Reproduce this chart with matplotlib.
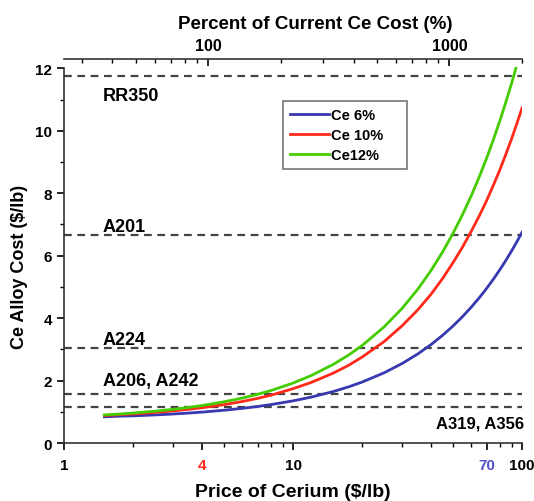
import matplotlib
matplotlib.use("Agg")
from matplotlib import pyplot as plt

# Data
price = [1.5, 1.75, 2, 2.5, 3, 3.5, 4, 5, 6, 7, 8, 10, 12, 15, 17.5, 20, 25, 30, 35,
         40, 45, 50, 55, 60, 65, 70, 75, 80, 85, 90, 95, 100]
ce6 = [0.84, 0.86, 0.87, 0.90, 0.93, 0.96, 0.99, 1.05, 1.11, 1.17, 1.23, 1.35, 1.47,
       1.65, 1.80, 1.95, 2.25, 2.55, 2.85, 3.15, 3.45, 3.75, 4.05, 4.35, 4.65, 4.95,
       5.25, 5.55, 5.85, 6.15, 6.45, 6.75]
ce10 = [0.88, 0.91, 0.93, 0.98, 1.03, 1.08, 1.13, 1.23, 1.33, 1.43, 1.53, 1.74, 1.94,
        2.24, 2.49, 2.75, 3.25, 3.76, 4.26, 4.76, 5.27, 5.78, 6.28, 6.78, 7.27, 7.76,
        8.26, 8.75, 9.25, 9.74, 10.24, 10.73]
price12 = [1.5, 1.75, 2, 2.5, 3, 3.5, 4, 5, 6, 7, 8, 10, 12, 15, 17.5, 20, 25, 30, 35,
           40, 45, 50, 55, 60, 65, 70, 75, 80, 85, 90, 94]
ce12 = [0.90, 0.93, 0.96, 1.02, 1.08, 1.14, 1.20, 1.32, 1.44, 1.56, 1.68, 1.92, 2.16,
        2.52, 2.82, 3.12, 3.72, 4.32, 4.92, 5.52, 6.12, 6.72, 7.32, 7.92, 8.52, 9.12,
        9.72, 10.32, 10.92, 11.52, 12.0]

alloys = ["RR350", "A201", "A224", "A206, A242", "A319, A356"]
alloy_cost = [11.75, 6.67, 3.05, 1.58, 1.14]

xtick_vals = [1, 4, 10, 70, 100]
xtick_labels = ["1", "4", "10", "70", "100"]
xtick_colors = ["black", "#ff2a1a", "black", "#5050c8", "black"]
top_ticks = [100, 1000]

plt.rcParams["font.family"] = ["Liberation Sans", "DejaVu Sans"]
plt.rcParams["font.weight"] = "bold"

fig = plt.figure(figsize=(5.34, 5.02), dpi=100)
ax = fig.add_axes([0.1199, 0.1155, 0.8577, 0.765])

for y in alloy_cost:
    ax.axhline(y, color="#444444", lw=1.6, ls=(0, (3.5, 2.5)), zorder=1)

ax.plot(price, ce6, color="#3838b0", lw=2.0, label="Ce 6%", zorder=3)
ax.plot(price, ce10, color="#ff2a1a", lw=2.0, label="Ce 10%", zorder=3)
ax.plot(price12, ce12, color="#44cc00", lw=2.0, label="Ce12%", zorder=3)

ax.set_xscale("log")
ax.set_xlim(1, 100)
ax.set_ylim(0, 12.3)
ax.set_xticks(xtick_vals)
ax.set_xticklabels(xtick_labels)
for lab, c in zip(ax.get_xticklabels(), xtick_colors):
    lab.set_color(c)
ax.set_yticks(range(0, 13, 2))
ax.set_yticks(range(1, 13, 2), minor=True)
ax.tick_params(axis="both", which="major", labelsize=11, length=5, width=1.2)
ax.tick_params(axis="both", which="minor", length=3, width=1.0)
ax.tick_params(axis="x", pad=6)

for s in ["top", "right"]:
    ax.spines[s].set_visible(False)
ax.spines["left"].set_bounds(0, 12)
for s in ["left", "bottom"]:
    ax.spines[s].set_linewidth(1.2)
    ax.spines[s].set_color("#333333")

ax.set_xlabel("Price of Cerium ($/lb)", fontsize=14, fontweight="bold", labelpad=8)
ax.set_ylabel("Ce Alloy Cost ($/lb)", fontsize=13, fontweight="bold")
ax.yaxis.set_label_coords(-0.079, 0.461)

# alloy labels
offsets = [-0.62, 0.25, 0.28, 0.42]
for name, y, off in zip(alloys[:4], alloy_cost[:4], offsets):
    ax.text(1.48, y + off, name, fontsize=13, fontweight="bold", va="center", ha="left")
ax.text(102, alloy_cost[4] - 0.5, alloys[4], fontsize=12, fontweight="bold",
        va="center", ha="right")

handles, labels = ax.get_legend_handles_labels()
leg = ax.legend(handles, [l + "    " for l in labels], loc="upper left",
                bbox_to_anchor=(0.4775, 0.891), borderaxespad=0,
                frameon=True, fancybox=False, handlelength=2.7, handletextpad=0.1,
                borderpad=0.5, labelspacing=0.4, prop={"weight": "bold", "size": 10.5})
leg.get_frame().set_edgecolor("#555555")
leg.get_frame().set_linewidth(1.2)

# top axis
top = ax.twiny()
top.set_xscale("log")
top.set_xlim(25.2, 2000)
top.set_xticks(top_ticks)
top.set_xticklabels([str(t) for t in top_ticks])
top.tick_params(axis="x", which="major", direction="in", length=5, width=1.2,
                labelsize=11.5, pad=4)
top.tick_params(axis="x", which="minor", direction="in", length=3, width=1.0)
for s in ["left", "right", "bottom"]:
    top.spines[s].set_visible(False)
top.spines["top"].set_linewidth(1.2)
top.spines["top"].set_color("#333333")
top.set_xlabel("Percent of Current Ce Cost (%)", fontsize=13.5, fontweight="bold")
top.xaxis.set_label_coords(0.549, 1.081)

fig.savefig("out.png", dpi=100)
